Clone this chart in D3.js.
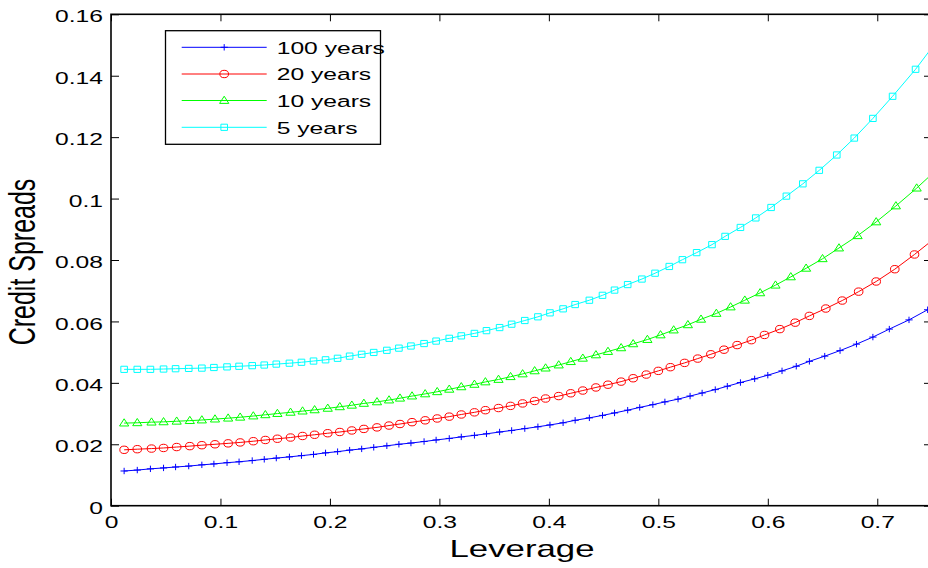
<!DOCTYPE html>
<html>
<head>
<meta charset="utf-8">
<script src="https://cdn.jsdelivr.net/npm/d3@7"></script>
<style>
  html, body { margin: 0; padding: 0; background: #fff; }
  svg { display: block; }
  text { font-family: "Liberation Sans", Arial, Helvetica, sans-serif; fill: #000; }
</style>
</head>
<body>
<svg id="chart" width="928" height="568"></svg>
<script>
// Credit spreads against leverage for four debt maturities

const xTicks = [0, 0.1, 0.2, 0.3, 0.4, 0.5, 0.6, 0.7];
const xTickLabels = ["0", "0.1", "0.2", "0.3", "0.4", "0.5", "0.6", "0.7"];
const yTicks = [0, 0.02, 0.04, 0.06, 0.08, 0.1, 0.12, 0.14, 0.16];
const yTickLabels = ["0", "0.02", "0.04", "0.06", "0.08", "0.1", "0.12", "0.14", "0.16"];

const seriesNames = ["100 years", "20 years", "10 years", "5 years"];
const seriesColors = ["#0000ff", "#ff0000", "#00ff00", "#00ffff"];
const seriesMarkers = ["plus", "circle", "triangle", "square"];

// 100-year maturity
const lev100 = [0.012,0.024,0.036,0.048,0.059,0.071,0.083,0.094,0.106,0.117,0.129,0.140,0.151,0.163,0.174,0.185,0.196,0.207,0.218,0.229,0.240,0.252,0.263,0.274,0.286,0.297,0.309,0.320,0.332,0.343,0.355,0.366,0.378,0.390,0.401,0.413,0.424,0.437,0.449,0.460,0.472,
  0.483,0.495,0.506,0.518,0.529,0.540,0.552,0.563,0.575,0.588,0.600,0.613,0.626,0.638,0.652,0.666,0.681,0.696,0.711,0.729,0.746,0.764];
const cs100 = [0.0113,0.0116,0.0120,0.0123,0.0126,0.0129,0.0133,0.0136,0.0140,0.0143,0.0147,0.0151,0.0155,0.0159,0.0163,0.0167,0.0172,0.0176,0.0181,0.0185,0.0190,0.0195,0.0200,0.0204,0.0209,0.0214,0.0219,0.0224,0.0229,0.0234,0.0240,0.0245,0.0251,0.0257,0.0263,0.0270,0.0278,0.0286,0.0294,0.0302,0.0311,
  0.0320,0.0329,0.0338,0.0347,0.0357,0.0367,0.0378,0.0389,0.0401,0.0413,0.0425,0.0439,0.0454,0.0470,0.0487,0.0505,0.0526,0.0549,0.0575,0.0605,0.0638,0.0676];

// 20-year maturity
const lev20 = [0.012,0.024,0.037,0.048,0.060,0.072,0.083,0.095,0.107,0.118,0.130,0.141,0.152,0.164,0.175,0.186,0.198,0.209,0.220,0.231,0.243,0.254,0.264,0.275,0.287,0.298,0.309,0.320,0.332,0.342,0.354,0.365,0.376,0.387,0.397,0.409,0.420,0.431,0.443,0.454,0.466,0.477,0.489,0.500,0.511,0.524,0.536,0.548,0.560,0.572,0.585,0.597,0.611,0.625,0.638,0.653,0.668,0.683,0.699,0.716,0.734,0.753];
const cs20 = [0.0182,0.0184,0.0186,0.0188,0.0191,0.0194,0.0197,0.0200,0.0203,0.0206,0.0210,0.0214,0.0218,0.0222,0.0227,0.0231,0.0236,0.0240,0.0245,0.0250,0.0255,0.0261,0.0266,0.0272,0.0278,0.0284,0.0290,0.0297,0.0304,0.0311,0.0318,0.0325,0.0333,0.0341,0.0349,0.0357,0.0366,0.0375,0.0385,0.0394,0.0404,0.0415,0.0427,0.0439,0.0451,0.0465,0.0479,0.0493,0.0508,0.0523,0.0539,0.0556,0.0575,0.0596,0.0618,0.0642,0.0668,0.0697,0.0730,0.0770,0.0818,0.0872];

// 10-year maturity
const lev10 = [0.012,0.024,0.037,0.048,0.060,0.072,0.083,0.095,0.107,0.118,0.130,0.141,0.152,0.164,0.175,0.186,0.198,0.209,0.220,0.231,0.243,0.254,0.264,0.275,0.287,0.298,0.309,0.320,0.332,0.342,0.354,0.365,0.376,0.387,0.397,0.409,0.420,0.431,0.443,0.454,0.466,0.477,
  0.490,0.502,0.514,0.527,0.539,0.553,0.566,0.579,0.593,0.607,0.621,0.635,0.650,0.665,0.682,0.699,0.717,0.736,0.756];
const cs10 = [0.0269,0.0270,0.0272,0.0273,0.0275,0.0277,0.0279,0.0282,0.0285,0.0288,0.0292,0.0296,0.0300,0.0304,0.0308,0.0312,0.0317,0.0322,0.0327,0.0333,0.0338,0.0344,0.0350,0.0357,0.0364,0.0371,0.0379,0.0387,0.0395,0.0403,0.0411,0.0420,0.0429,0.0439,0.0448,0.0458,0.0469,0.0480,0.0491,0.0502,0.0514,0.0527,
  0.0541,0.0556,0.0572,0.0589,0.0607,0.0626,0.0647,0.0669,0.0693,0.0718,0.0745,0.0773,0.0804,0.0839,0.0879,0.0924,0.0976,0.1034,0.1100];

// 5-year maturity
const lev5 = [0.012,0.024,0.036,0.048,0.059,0.071,0.083,0.094,0.106,0.117,0.129,0.140,0.151,0.163,0.174,0.185,0.196,0.207,0.218,0.229,0.240,0.252,0.263,0.274,0.286,0.297,0.309,0.320,0.332,0.343,0.355,0.366,0.378,0.390,0.401,0.413,0.424,0.437,0.449,0.460,0.472,
  0.485,0.497,0.510,0.522,0.535,0.549,0.561,0.575,0.589,0.603,0.617,0.632,0.647,0.663,0.679,0.696,0.714,0.735,0.757];
const cs5 = [0.0444,0.0444,0.0444,0.0445,0.0446,0.0447,0.0448,0.0450,0.0452,0.0454,0.0456,0.0458,0.0461,0.0464,0.0467,0.0471,0.0475,0.0480,0.0487,0.0493,0.0499,0.0506,0.0513,0.0520,0.0528,0.0536,0.0545,0.0553,0.0561,0.0570,0.0580,0.0591,0.0603,0.0615,0.0628,0.0641,0.0655,0.0669,0.0685,0.0702,0.0720,
  0.0738,0.0757,0.0779,0.0801,0.0824,0.0850,0.0877,0.0906,0.0937,0.0971,0.1008,0.1048,0.1092,0.1142,0.1197,0.1261,0.1333,0.1421,0.1525];

const seriesLev = [lev100, lev20, lev10, lev5];
const seriesCs = [cs100, cs20, cs10, cs5];

// ---- layout ----
const svg = d3.select("#chart");
const plot = { left: 111, right: 932, top: 14.3, bottom: 505.7 };
const textStretch = 1.45;       // wide glyphs of the stretched figure
const tickFont = 17;

const x = d3.scaleLinear().domain([0, 0.75]).range([plot.left, plot.right]);
const y = d3.scaleLinear().domain([0, 0.16]).range([plot.bottom, plot.top]);

svg.append("rect").attr("width", 928).attr("height", 568).attr("fill", "#fff");

svg.append("defs").append("clipPath").attr("id", "plotClip")
  .append("rect")
  .attr("x", plot.left).attr("y", plot.top)
  .attr("width", plot.right - plot.left).attr("height", plot.bottom - plot.top);

// marker shapes centred on the origin
function markerPath(kind) {
  switch (kind) {
    case "plus": return "M-3.6,0H3.6M0,-3.2V3.2";
    case "circle": return "M-4.3,0A4.3,3.7 0 1,0 4.3,0A4.3,3.7 0 1,0 -4.3,0Z";
    case "triangle": return "M0,-4.3L4.6,2.9L-4.6,2.9Z";
    case "square": return "M-3.3,-3.1H3.3V3.1H-3.3Z";
  }
}

// ---- axes (ticks point inward, MATLAB style) ----
function styleText(sel) {
  sel.selectAll("text")
    .style("font-size", tickFont + "px")
    .attr("fill", "#000");
}

const gBottom = svg.append("g")
  .attr("transform", `translate(0,${plot.bottom})`)
  .call(d3.axisBottom(x).tickValues(xTicks)
    .tickFormat((d, i) => xTickLabels[i])
    .tickSizeInner(-7).tickSizeOuter(0).tickPadding(10.5));
styleText(gBottom);
gBottom.selectAll("text").attr("transform", `scale(${textStretch},1)`);

const gTop = svg.append("g")
  .attr("transform", `translate(0,${plot.top})`)
  .call(d3.axisTop(x).tickValues(xTicks).tickFormat("")
    .tickSizeInner(-7).tickSizeOuter(0));

const gLeft = svg.append("g")
  .attr("transform", `translate(${plot.left},0)`)
  .call(d3.axisLeft(y).tickValues(yTicks)
    .tickFormat((d, i) => yTickLabels[i])
    .tickSizeInner(-8).tickSizeOuter(0).tickPadding(8));
styleText(gLeft);
gLeft.selectAll("text")
  .attr("x", -8 / textStretch)
  .attr("dy", "0.45em")
  .attr("transform", `scale(${textStretch},1)`);

const gRight = svg.append("g")
  .attr("transform", `translate(${plot.right},0)`)
  .call(d3.axisRight(y).tickValues(yTicks).tickFormat("")
    .tickSizeInner(-8).tickSizeOuter(0));

[gBottom, gTop, gLeft, gRight].forEach(g => {
  g.select(".domain").remove();
  g.selectAll(".tick line").attr("stroke", "#000").attr("stroke-width", 1);
});

// ---- data ----
const line = d3.line().x(d => x(d[0])).y(d => y(d[1]));
const dataLayer = svg.append("g").attr("clip-path", "url(#plotClip)");

seriesNames.forEach((name, s) => {
  const pts = seriesLev[s].map((v, i) => [v, seriesCs[s][i]]);
  const g = dataLayer.append("g");
  g.append("path")
    .attr("d", line(pts))
    .attr("fill", "none")
    .attr("stroke", seriesColors[s])
    .attr("stroke-width", 1);
  g.selectAll("path.mk").data(pts).enter().append("path")
    .attr("class", "mk")
    .attr("transform", d => `translate(${x(d[0])},${y(d[1])})`)
    .attr("d", markerPath(seriesMarkers[s]))
    .attr("fill", "none")
    .attr("stroke", seriesColors[s])
    .attr("stroke-width", 1);
});

// axes box
svg.append("rect")
  .attr("x", plot.left).attr("y", plot.top)
  .attr("width", plot.right - plot.left).attr("height", plot.bottom - plot.top)
  .attr("fill", "none").attr("stroke", "#000").attr("stroke-width", 1.6);

// ---- axis titles ----
svg.append("text")
  .attr("transform", `translate(522,557) scale(${textStretch},1)`)
  .attr("text-anchor", "middle")
  .style("font-size", "24px")
  .text("Leverage");

svg.append("text")
  .attr("transform", `translate(35,262) scale(${textStretch},1) rotate(-90)`)
  .attr("text-anchor", "middle")
  .style("font-size", "25px")
  .text("Credit Spreads");

// ---- legend ----
const legend = { x: 165.5, y: 30.7, w: 215, h: 113.6, lineX0: 181.7, lineX1: 266.7, textX: 276.7 };
const legendRows = [47.3, 74, 100.5, 127.3];
const lg = svg.append("g");
lg.append("rect")
  .attr("x", legend.x).attr("y", legend.y).attr("width", legend.w).attr("height", legend.h)
  .attr("fill", "#fff").attr("stroke", "#000").attr("stroke-width", 1.3);

seriesNames.forEach((name, s) => {
  const ry = legendRows[s];
  lg.append("line")
    .attr("x1", legend.lineX0).attr("x2", legend.lineX1)
    .attr("y1", ry).attr("y2", ry)
    .attr("stroke", seriesColors[s]).attr("stroke-width", 1);
  lg.append("path")
    .attr("transform", `translate(${(legend.lineX0 + legend.lineX1) / 2},${ry})`)
    .attr("d", markerPath(seriesMarkers[s]))
    .attr("fill", "none").attr("stroke", seriesColors[s]).attr("stroke-width", 1);
  lg.append("text")
    .attr("transform", `translate(${legend.textX},${ry + 6.3}) scale(${textStretch},1)`)
    .style("font-size", tickFont + "px")
    .text(name);
});
</script>
</body>
</html>
